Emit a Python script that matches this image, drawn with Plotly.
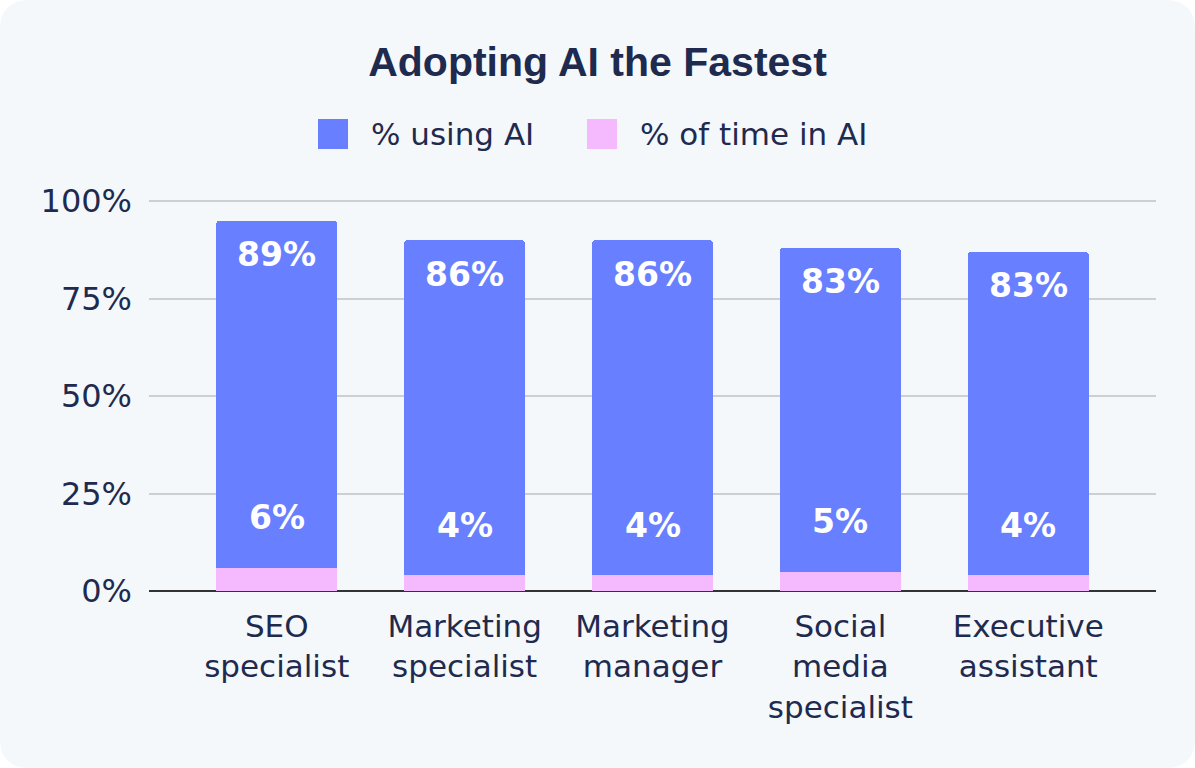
import plotly.graph_objects as go

categories = ["SEO<br>specialist", "Marketing<br>specialist", "Marketing<br>manager",
              "Social<br>media<br>specialist", "Executive<br>assistant"]
series_names = ["% using AI", "% of time in AI"]
pct_using_ai = [89, 86, 86, 83, 83]
pct_time_in_ai = [6, 4, 4, 5, 4]
y_ticks = [0, 25, 50, 75, 100]

BLUE = "#6880FF"
PINK = "#F5B9FD"
TEXT = "#1F2A4F"
CARD = "#F4F8FB"
FONT = "DejaVu Sans"

W, H = 1195, 768
L, R, T, B = 149, 39, 200, 177
PW, PH = W - L - R, H - T - B


def px(x):
    return (x - L) / PW


def py(y):
    return (H - B - y) / PH


fig = go.Figure()
fig.add_trace(go.Bar(x=list(range(len(categories))), y=pct_time_in_ai, name=series_names[1],
                     marker=dict(color=PINK, line=dict(width=0)), width=0.645, showlegend=False,
                     hoverinfo="skip"))
fig.add_trace(go.Bar(x=list(range(len(categories))), y=pct_using_ai, name=series_names[0],
                     marker=dict(color=BLUE, line=dict(width=0)), width=0.645, showlegend=False,
                     hoverinfo="skip"))

annotations = []
for i, (u, t) in enumerate(zip(pct_using_ai, pct_time_in_ai)):
    annotations.append(dict(x=i, y=u + t, xref="x", yref="y", text=f"<b>{u}%</b>",
                            showarrow=False, yanchor="middle", yshift=-34,
                            font=dict(family=FONT, size=33, color="white")))
    annotations.append(dict(x=i, y=t, xref="x", yref="y", text=f"<b>{t}%</b>",
                            showarrow=False, yanchor="middle", yshift=50,
                            font=dict(family=FONT, size=33, color="white")))

# custom legend
shapes = []
legend_items = [(318, series_names[0], BLUE), (587, series_names[1], PINK)]
for x0, name, col in legend_items:
    shapes.append(dict(type="rect", xref="paper", yref="paper",
                       x0=px(x0), x1=px(x0 + 30), y0=py(149), y1=py(119),
                       fillcolor=col, line=dict(width=0), layer="above"))
    annotations.append(dict(x=px(x0 + 51), y=py(134), xref="paper", yref="paper",
                            text=name, showarrow=False, xanchor="left", yanchor="middle",
                            font=dict(family=FONT, size=31, color=TEXT)))

# rounded card background
r = 30
path = (f"M {px(r)},{py(0)} L {px(W - r)},{py(0)} Q {px(W)},{py(0)} {px(W)},{py(r)} "
        f"L {px(W)},{py(H - r)} Q {px(W)},{py(H)} {px(W - r)},{py(H)} "
        f"L {px(r)},{py(H)} Q {px(0)},{py(H)} {px(0)},{py(H - r)} "
        f"L {px(0)},{py(r)} Q {px(0)},{py(0)} {px(r)},{py(0)} Z")
shapes.append(dict(type="path", path=path, xref="paper", yref="paper",
                   fillcolor=CARD, line=dict(width=0), layer="below"))

fig.update_layout(
    width=W, height=H,
    margin=dict(l=L, r=R, t=T, b=B, pad=0),
    paper_bgcolor="white", plot_bgcolor="rgba(0,0,0,0)",
    barmode="stack", barcornerradius=4,
    title=dict(text="<b>Adopting AI the Fastest</b>", x=(597.5 - L) / PW, xref="paper",
               xanchor="center", y=1 - 62 / H, yref="container", yanchor="middle",
               font=dict(family="Liberation Sans", size=41, color=TEXT)),
    xaxis=dict(range=[-0.68, 4.68], tickvals=list(range(len(categories))), ticktext=categories,
               showgrid=False, zeroline=False, showline=False, ticks="",
               tickfont=dict(family=FONT, size=31, color=TEXT), ticklabelstandoff=14),
    yaxis=dict(range=[0, 100.3], tickvals=y_ticks, ticktext=[f"{v}%" for v in y_ticks],
               showgrid=True, gridcolor="#CDCFD3", gridwidth=2,
               zeroline=True, zerolinecolor="#333333", zerolinewidth=2,
               showline=False, ticks="", ticklabelstandoff=16,
               tickfont=dict(family=FONT, size=32, color=TEXT)),
    annotations=annotations, shapes=shapes, showlegend=False,
)

fig.write_html("out.html")
